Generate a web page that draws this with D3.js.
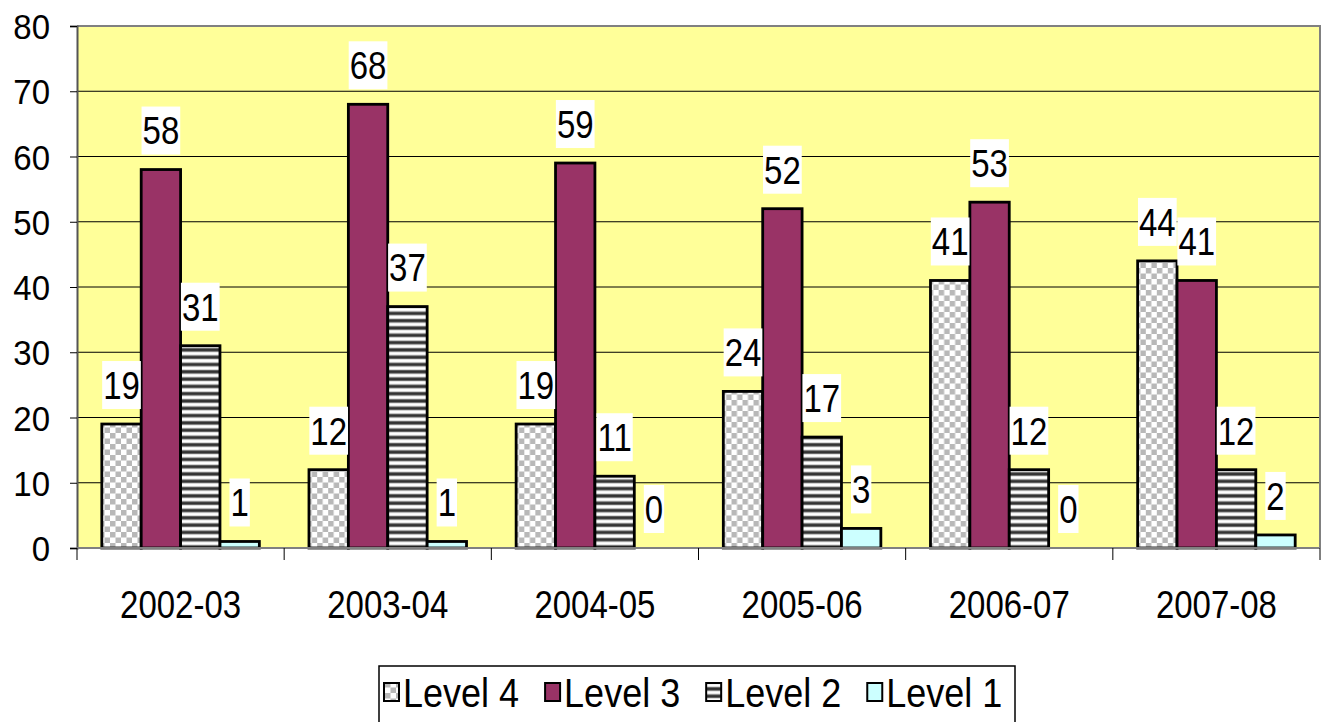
<!DOCTYPE html>
<html>
<head>
    <script src="https://cdn.jsdelivr.net/npm/d3@7"></script>
    <style>
        body { margin: 0; background: #fff; }
        text { font-family: "Liberation Sans", Arial, sans-serif; fill: #000; }
    </style>
</head>
<body>
<div id="chart"></div>
<script>
    var years = ["2002-03", "2003-04", "2004-05", "2005-06", "2006-07", "2007-08"];
    var seriesNames = ["Level 4", "Level 3", "Level 2", "Level 1"];
    var level4 = [19, 12, 19, 24, 41, 44];
    var level3 = [58, 68, 59, 52, 53, 41];
    var level2 = [31, 37, 11, 17, 12, 12];
    var level1 = [1, 1, 0, 3, 0, 2];
    var yTicks = [0, 10, 20, 30, 40, 50, 60, 70, 80];

    var series = [level4, level3, level2, level1];
    var fills = ["url(#checker)", "#993366", "url(#stripes)", "#ccffff"];

    var marg_t = 26,
        marg_l = 77,
        W = 1324,
        H = 722,
        width = 1320 - marg_l,
        height = 548 - marg_t,
        fontSize = 33,
        stretch = 1.15;

    var root = d3.select("#chart")
        .append("svg")
            .attr("width", W)
            .attr("height", H);

    // fill patterns
    var defs = root.append("defs");
    var chk = defs.append("pattern")
        .attr("id", "checker")
        .attr("patternUnits", "userSpaceOnUse")
        .attr("width", 11).attr("height", 11);
    chk.append("rect").attr("width", 11).attr("height", 11).attr("fill", "#fff");
    chk.append("rect").attr("width", 5.5).attr("height", 5.5).attr("fill", "#b8b8b8");
    chk.append("rect").attr("x", 5.5).attr("y", 5.5).attr("width", 5.5).attr("height", 5.5).attr("fill", "#b8b8b8");

    var str = defs.append("pattern")
        .attr("id", "stripes")
        .attr("patternUnits", "userSpaceOnUse")
        .attr("width", 8).attr("height", 7.3);
    str.append("rect").attr("width", 8).attr("height", 7.3).attr("fill", "#fff");
    str.append("rect").attr("y", 0.6).attr("width", 8).attr("height", 4.2).attr("fill", "#8a8a8a");
    str.append("rect").attr("y", 1.4).attr("width", 8).attr("height", 2.6).attr("fill", "#333");

    var svg = root.append("g")
        .attr("transform", "translate(" + marg_l + "," + marg_t + ")");

    var x = d3.scaleBand()
        .domain(years)
        .range([0, width]);

    var xi = d3.scaleBand()
        .domain(seriesNames)
        .range([0, x.bandwidth()])
        .paddingOuter(0.63);

    var y = d3.scaleLinear()
        .domain([0, 80])
        .range([height, 0]);

    // plot background
    svg.append("rect")
        .attr("width", width)
        .attr("height", height)
        .attr("fill", "#ffff99");

    // grid lines
    svg.append("g")
        .selectAll("line")
        .data(yTicks.filter(function(d) { return d > 0 && d < 80; }))
        .join("line")
            .attr("x1", 0).attr("x2", width)
            .attr("y1", function(d) { return y(d); })
            .attr("y2", function(d) { return y(d); })
            .attr("stroke", "#000")
            .attr("stroke-width", 1);

    // border top/right
    svg.append("path")
        .attr("d", "M0," + y(80) + "H" + width + "V" + height)
        .attr("fill", "none")
        .attr("stroke", "#808080")
        .attr("stroke-width", 2);

    // bars
    var groups = svg.append("g")
        .selectAll("g")
        .data(years)
        .join("g")
            .attr("transform", function(d) { return "translate(" + x(d) + ",0)"; });

    groups.selectAll("rect")
        .data(function(d, i) {
            return seriesNames.map(function(s, k) { return { s: s, k: k, v: series[k][i] }; });
        })
        .join("rect")
            .attr("x", function(d) { return xi(d.s); })
            .attr("y", function(d) { return y(d.v); })
            .attr("width", xi.bandwidth())
            .attr("height", function(d) { return height - y(d.v); })
            .attr("fill", function(d) { return fills[d.k]; })
            .attr("stroke", "#000")
            .attr("stroke-width", 2.8)
            .attr("display", function(d) { return d.v > 0 ? null : "none"; });

    // value labels
    var lab = groups.selectAll("g.lab")
        .data(function(d, i) {
            return seriesNames.map(function(s, k) { return { s: s, k: k, v: series[k][i] }; });
        })
        .join("g")
            .attr("class", "lab")
            .attr("transform", function(d) {
                return "translate(" + (xi(d.s) + xi.bandwidth() / 2) + "," + (y(d.v) - 39) + ")";
            });

    lab.each(function(d) {
        var g = d3.select(this);
        var t = g.append("text")
            .attr("text-anchor", "middle")
            .attr("font-size", fontSize)
            .attr("transform", "scale(1," + stretch + ")")
            .attr("y", 12)
            .text(d.v);
        var w = t.node().getComputedTextLength() + 2;
        g.insert("rect", "text")
            .attr("x", -w / 2).attr("y", -24)
            .attr("width", w).attr("height", 48)
            .attr("fill", "#fff");
    });

    // y axis
    var yAxis = svg.append("g")
        .call(d3.axisLeft(y).tickValues(yTicks).tickSize(7).tickPadding(20));
    yAxis.select(".domain").attr("stroke", "#555").attr("stroke-width", 2);
    yAxis.selectAll(".tick line").attr("stroke", "#000");
    yAxis.selectAll(".tick text")
        .attr("font-size", fontSize)
        .attr("font-family", "Liberation Sans, Arial, sans-serif")
        .attr("dy", null)
        .attr("y", 12)
        .attr("transform", "scale(1,1.05)");

    // x axis
    var xAxis = svg.append("g")
        .attr("transform", "translate(0," + height + ")");
    xAxis.append("line")
        .attr("x1", 0).attr("x2", width)
        .attr("stroke", "#808080").attr("stroke-width", 2);
    xAxis.selectAll("line.tk")
        .data(years.concat(["end"]))
        .join("line")
            .attr("class", "tk")
            .attr("x1", function(d) { return d === "end" ? width : x(d); })
            .attr("x2", function(d) { return d === "end" ? width : x(d); })
            .attr("y1", 0).attr("y2", 12)
            .attr("stroke", "#000");
    xAxis.selectAll("text")
        .data(years)
        .join("text")
            .attr("text-anchor", "middle")
            .attr("font-size", fontSize)
            .attr("transform", function(d) {
                return "translate(" + (x(d) + x.bandwidth() / 2) + ",70) scale(1," + stretch + ")";
            })
            .text(function(d) { return d; });

    // legend
    var legend = root.append("g");
    legend.append("rect")
        .attr("x", 379).attr("y", 666)
        .attr("width", 636).attr("height", 70)
        .attr("fill", "#fff")
        .attr("stroke", "#000")
        .attr("stroke-width", 1.5);

    var lx = 384;
    seriesNames.forEach(function(s, k) {
        legend.append("rect")
            .attr("x", lx).attr("y", 683)
            .attr("width", 15).attr("height", 18)
            .attr("fill", fills[k])
            .attr("stroke", "#000")
            .attr("stroke-width", 2);
        var t = legend.append("text")
            .attr("font-size", 36)
            .attr("transform", "translate(" + (lx + 19) + ",707) scale(1,1.12)")
            .text(s);
        lx += 19 + t.node().getComputedTextLength() + 26;
    });
</script>
</body>
</html>
